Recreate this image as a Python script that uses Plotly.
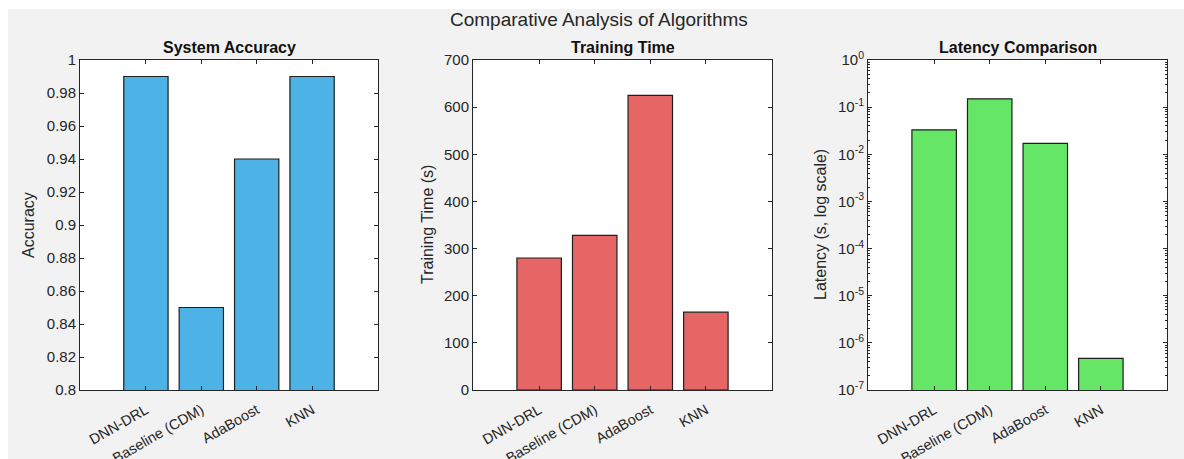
import plotly.graph_objects as go

# ---- data ----
algorithms = ["DNN-DRL", "Baseline (CDM)", "AdaBoost", "KNN"]
accuracy = [0.99, 0.85, 0.94, 0.99]
training_time = [280, 328, 625, 165]
latency = [0.033, 0.15, 0.017, 4.7e-7]

acc_ticks = [0.8, 0.82, 0.84, 0.86, 0.88, 0.9, 0.92, 0.94, 0.96, 0.98, 1]
time_ticks = [0, 100, 200, 300, 400, 500, 600, 700]
lat_exponents = [-7, -6, -5, -4, -3, -2, -1, 0]
lat_ticktext = ["10<sup>%d</sup>" % e for e in lat_exponents]

W, H = 1184, 459
TXT = "#262626"
FONT = "Liberation Sans, Arial, sans-serif"
BG = "#f2f2f2"

panels_px = [(80, 378), (473, 772), (868, 1167)]
top_px, bot_px = 60, 390

fig = go.Figure()

colors = ["#4DB3E6", "#E66666", "#66E666"]
series = [accuracy, training_time, latency]
for i, (vals, col) in enumerate(zip(series, colors)):
    fig.add_trace(go.Bar(
        x=algorithms, y=vals, width=0.8,
        marker=dict(color=col, line=dict(color="#1f1f1f", width=1.2)),
        xaxis="x" if i == 0 else "x%d" % (i + 1),
        yaxis="y" if i == 0 else "y%d" % (i + 1),
        showlegend=False,
    ))

ydom = [1 - bot_px / H, 1 - top_px / H]
common_x = dict(
    type="category", range=[-1.19, 4.19], showline=True, linecolor=TXT, linewidth=1,
    mirror="ticks", ticks="inside", ticklen=4, tickcolor=TXT, tickangle=-30,
    tickfont=dict(family=FONT, size=14.5, color=TXT), showgrid=False, zeroline=False,
    fixedrange=True, automargin=False, ticklabelstandoff=5,
)
common_y = dict(
    showline=True, linecolor=TXT, linewidth=1, mirror="ticks", ticks="inside",
    ticklen=4, tickcolor=TXT, tickfont=dict(family=FONT, size=15, color=TXT),
    showgrid=False, zeroline=False, automargin=False,
)

layout = dict(
    width=W, height=H, margin=dict(l=0, r=0, t=0, b=0, autoexpand=False),
    paper_bgcolor=BG, plot_bgcolor="white", bargap=0.2,
)
for i, (x0, x1) in enumerate(panels_px):
    xa = "xaxis" if i == 0 else "xaxis%d" % (i + 1)
    ya = "yaxis" if i == 0 else "yaxis%d" % (i + 1)
    yanchor = "y" if i == 0 else "y%d" % (i + 1)
    xanchor = "x" if i == 0 else "x%d" % (i + 1)
    layout[xa] = dict(common_x, domain=[x0 / W, x1 / W], anchor=yanchor)
    layout[ya] = dict(common_y, domain=ydom, anchor=xanchor)

layout["yaxis"].update(range=[0.8, 1.0], tickvals=acc_ticks)
layout["yaxis2"].update(range=[0, 700], tickvals=time_ticks)
layout["yaxis3"].update(type="log", range=[-7, 0],
                        tickvals=[10.0 ** e for e in lat_exponents],
                        ticktext=lat_ticktext,
                        minor=dict(ticks="inside", ticklen=2, tickcolor=TXT, dtick="D1"))
fig.update_layout(**layout)

ann = []
ann.append(dict(text="Comparative Analysis of Algorithms", x=598.5 / W, y=1 - 19 / H,
                xref="paper", yref="paper", xanchor="center", yanchor="middle",
                showarrow=False, font=dict(family=FONT, size=19, color=TXT)))
sub_titles = ["System Accuracy", "Training Time", "Latency Comparison"]
y_titles = ["Accuracy", "Training Time (s)", "Latency (s, log scale)"]
y_title_x = [28, 427, 820]
for (x0, x1), st, yt, yx in zip(panels_px, sub_titles, y_titles, y_title_x):
    ann.append(dict(text="<b>%s</b>" % st, x=(x0 + x1) / 2 / W, y=1 - 48 / H,
                    xref="paper", yref="paper", xanchor="center", yanchor="middle",
                    showarrow=False, font=dict(family=FONT, size=16, color="#111111")))
    ann.append(dict(text=yt, x=yx / W, y=1 - ((top_px + bot_px) / 2) / H,
                    xref="paper", yref="paper", xanchor="center", yanchor="middle",
                    textangle=-90, showarrow=False,
                    font=dict(family=FONT, size=16, color=TXT)))

shapes = [
    dict(type="rect", xref="paper", yref="paper", x0=0, x1=1, y0=1 - 9 / H, y1=1,
         fillcolor="white", line=dict(width=0)),
    dict(type="rect", xref="paper", yref="paper", x0=0, x1=8 / W, y0=0, y1=1,
         fillcolor="white", line=dict(width=0)),
]
fig.update_layout(annotations=ann, shapes=shapes)

fig.write_html("out.html")
